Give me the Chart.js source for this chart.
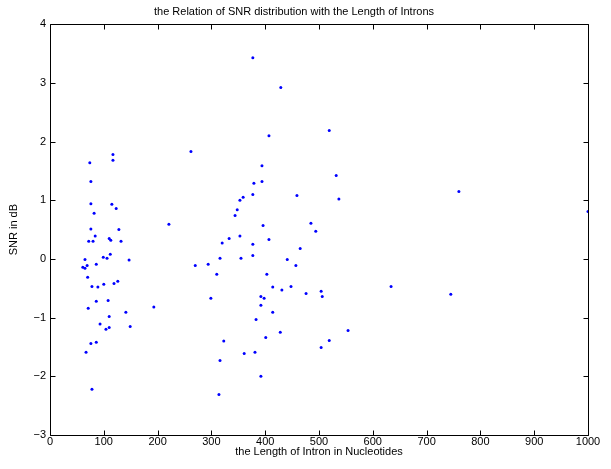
<!DOCTYPE html>
<html>
<head>
<meta charset="utf-8">
<script src="https://cdn.jsdelivr.net/npm/chart.js@4"></script>
<style>
  html, body { margin: 0; padding: 0; background: #fff; }
  #wrap { width: 611px; height: 469px; }
</style>
</head>
<body>
<div id="wrap"><canvas id="snr"></canvas></div>
<script>
// intron length (nt) and SNR (dB)
const intronLength = [
  74, 76, 76, 82, 76, 84, 72, 80, 117, 117, 115, 123, 128, 110, 113, 132,
  65, 99, 106, 112, 147, 61, 65, 69, 86, 70, 78, 89, 100, 119, 126, 86,
  108, 71, 141, 193, 110, 93, 104, 110, 149, 76, 86, 67, 78, 221,
  377, 429, 519, 407, 262, 394, 532, 379, 394, 377, 353, 359, 459, 537,
  348, 344, 396, 485, 494, 407, 377, 377, 465, 441, 457, 403, 414, 431,
  448, 476, 504, 506, 392, 398, 634, 392, 414, 383, 428, 554, 401, 519,
  504, 381, 392, 353, 333, 320, 355, 316, 294, 270, 310, 299, 323, 361,
  316, 314, 745, 760, 1000
];
const snrDb = [
  1.64, 1.32, 0.94, 0.78, 0.51, 0.39, 0.30, 0.30, 1.78, 1.68, 0.93, 0.86, 0.50, 0.35, 0.32, 0.30,
  -0.01, 0.03, 0.01, 0.08, -0.02, -0.14, -0.16, -0.11, -0.09, -0.31, -0.47, -0.48, -0.43, -0.42, -0.38, -0.72,
  -0.71, -0.84, -0.91, -0.82, -0.98, -1.11, -1.20, -1.17, -1.15, -1.44, -1.42, -1.59, -2.22, 0.59,
  3.43, 2.92, 2.19, 2.10, 1.83, 1.59, 1.42, 1.29, 1.32, 1.10, 1.00, 1.05, 1.08, 1.02,
  0.84, 0.74, 0.57, 0.61, 0.47, 0.33, 0.25, 0.06, 0.18, -0.01, -0.11, -0.26, -0.48, -0.53,
  -0.47, -0.59, -0.55, -0.64, -0.64, -0.67, -0.47, -0.79, -0.91, -1.03, -1.25, -1.22, -1.34, -1.39,
  -1.51, -1.59, -2.00, 0.39, 0.35, 0.27, 0.01, 0.01, -0.09, -0.11, -0.26, -0.67, -1.40, -1.61,
  -1.73, -2.31, -0.60, 1.15, 0.81
];
const xTicks = [0, 100, 200, 300, 400, 500, 600, 700, 800, 900, 1000];
const yTicks = [-3, -2, -1, 0, 1, 2, 3, 4];

const points = intronLength.map((x, i) => ({ x: x, y: snrDb[i] }));

// matlab style box with inward ticks on all four sides
const boxTicks = {
  id: "boxTicks",
  afterDatasetsDraw(chart) {
    const ctx = chart.ctx;
    const area = chart.chartArea;
    const sx = chart.scales.x;
    const sy = chart.scales.y;
    const l = Math.round(area.left) + 0.5;
    const r = Math.round(area.right) + 0.5;
    const t = Math.round(area.top) + 0.5;
    const b = Math.round(area.bottom) + 0.5;
    ctx.save();
    ctx.strokeStyle = "#000000";
    ctx.lineWidth = 1;
    ctx.beginPath();
    for (const v of xTicks) {
      const px = Math.round(sx.getPixelForValue(v)) + 0.5;
      ctx.moveTo(px, b); ctx.lineTo(px, b - 5);
      ctx.moveTo(px, t); ctx.lineTo(px, t + 5);
    }
    for (const v of yTicks) {
      const py = Math.round(sy.getPixelForValue(v)) + 0.5;
      ctx.moveTo(l, py); ctx.lineTo(l + 5, py);
      ctx.moveTo(r, py); ctx.lineTo(r - 5, py);
    }
    ctx.moveTo(l, t); ctx.lineTo(r, t); ctx.lineTo(r, b); ctx.lineTo(l, b); ctx.closePath();
    ctx.stroke();
    ctx.restore();
  },
};

const font = { family: "'Liberation Sans', Arial, sans-serif", size: 11 };

new Chart(document.getElementById("snr"), {
  type: "scatter",
  data: {
    datasets: [
      {
        label: "SNR",
        data: points,
        backgroundColor: "#0000ff",
        borderColor: "#0000ff",
        pointRadius: 1.5,
        pointBorderWidth: 0,
        pointHoverRadius: 1.5,
      },
    ],
  },
  options: {
    responsive: true,
    maintainAspectRatio: false,
    animation: false,
    layout: { padding: { left: 0, right: 23, top: 0, bottom: 0 } },
    plugins: {
      legend: { display: false },
      tooltip: { enabled: false },
      title: {
        display: true,
        text: "the Relation of SNR distribution with the Length of Introns",
        color: "#000",
        font: { ...font, weight: "normal" },
        padding: { top: 5, bottom: 6 },
      },
    },
    scales: {
      x: {
        type: "linear",
        min: 0,
        max: 1000,
        afterBuildTicks: (s) => { s.ticks = xTicks.map((v) => ({ value: v })); },
        afterFit: (s) => { s.height = 34; },
        grid: { display: false, drawTicks: false, tickLength: 0 },
        border: { display: false },
        ticks: { color: "#000", font: font, padding: 0, maxRotation: 0, callback: (v) => String(v) },
        title: {
          display: true,
          text: "the Length of Intron in Nucleotides",
          color: "#000",
          font: font,
          padding: { top: 0, bottom: 10 },
        },
      },
      y: {
        type: "linear",
        min: -3,
        max: 4,
        afterBuildTicks: (s) => { s.ticks = yTicks.map((v) => ({ value: v })); },
        afterFit: (s) => { s.width = 50; },
        grid: { display: false, drawTicks: false, tickLength: 0 },
        border: { display: false },
        ticks: {
          color: "#000",
          font: font,
          padding: 4,
          callback: (v) => (v < 0 ? "\u2212" + Math.abs(v) : String(v)),
        },
        title: {
          display: true,
          text: "SNR in dB",
          color: "#000",
          font: font,
          padding: { top: 7, bottom: 0 },
        },
      },
    },
  },
  plugins: [boxTicks],
});
</script>
</body>
</html>
